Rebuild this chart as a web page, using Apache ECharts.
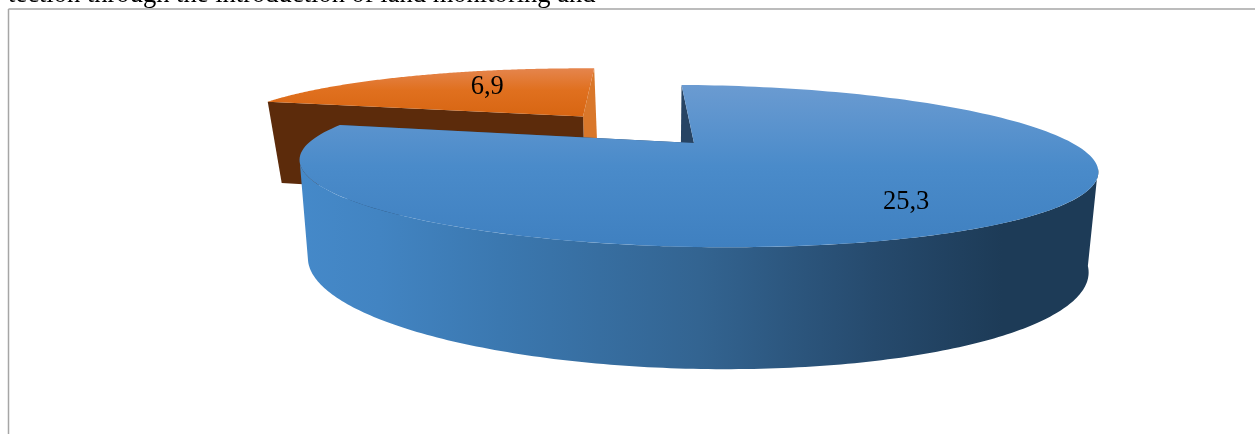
<!DOCTYPE html>
<html>
<head>
<meta charset="utf-8">
<style>html,body{margin:0;padding:0;background:#fff}#c{width:1255px;height:434px}</style>
<script src="https://cdn.jsdelivr.net/npm/echarts@6/dist/echarts.min.js"></script>
</head>
<body>
<div id="c"></div>
<script>
// data
var seriesValues = [25.3, 6.9];
var sliceLabels = ['25,3', '6,9'];
var explode = [0, 0.49];
var captionText = 'tection through the introduction of land monitoring and';

// styles
var topStops = [
  [[0,'#6b9bd1'],[0.5,'#4a8bca'],[1,'#3f80c0']],
  [[0,'#e5854d'],[0.45,'#e0701f'],[1,'#d76512']]
];
var wallStops = [
  [[0,'#4589c9'],[0.1,'#4284c2'],[0.25,'#3b78b0'],[0.5,'#336491'],[0.72,'#264a6d'],[0.88,'#1d3b57'],[1,'#1d3b57']],
  [[0,'#5c2b0b'],[1,'#5c2b0b']]
];
var startWallColor = ['#274464', '#5c2b0b'];
var endWallColor = ['#274464', '#d9772a'];
var labelRadius = [0.72, 0.5];
var labelShift = [8, -7];
var labelShiftX = [-3, -3];
var sliceDepth = [10, 0];

// projection of the pie: top and bottom discs with perspective
var topDisc = {cx:694, cy:143, a:382.6, b:74.5, k:0.284, t:16};
var botDisc = {cx:693, cy:234, a:372, b:94.5, k:0.3, t:16};
var tilt = 0.0065;
function project(d, X, Y) {
  var w = 1 - d.k * Y;
  var x = d.cx + (d.a * X + d.t * Y) / w;
  var y = d.cy + d.b * Y / w + tilt * (x - d.cx);
  return [x, y];
}
var total = seriesValues.reduce(function (s, v) { return s + v; }, 0);
function startOf(i) {
  var s = 0;
  for (var j = 0; j < i; j++) s += seriesValues[j];
  return s / total * 2 * Math.PI;
}
function world(th, r, off) {
  return [off[0] + r * Math.sin(th), off[1] - r * Math.cos(th)];
}
function arc(d, a0, a1, off) {
  var pts = [], n = 180;
  for (var i = 0; i <= n; i++) {
    var w = world(a0 + (a1 - a0) * i / n, 1, off);
    pts.push(project(d, w[0], w[1]));
  }
  return pts;
}
function grad(horizontal, stops) {
  return {type:'linear', x:0, y:0, x2:horizontal?1:0, y2:horizontal?0:1, global:false,
    colorStops:stops.map(function (s) { return {offset:s[0], color:s[1]}; })};
}
function renderSlice(params, api) {
  var i = params.dataIndex;
  var v = api.value(0);
  var a0 = startOf(i), a1 = a0 + v / total * 2 * Math.PI, mid = (a0 + a1) / 2;
  var off = [explode[i] * Math.sin(mid), -explode[i] * Math.cos(mid)];
  var base = sliceDepth[i];
  var kids = [];
  function poly(points, fill, lift) {
    kids.push({type:'polygon', z2:base + lift, shape:{points:points}, style:{fill:fill, stroke:null}});
  }
  function radialWall(th, fill) {
    var o = world(th, 1, off);
    poly([project(topDisc, o[0], o[1]), project(topDisc, off[0], off[1]),
          project(botDisc, off[0], off[1]), project(botDisc, o[0], o[1])], fill, 0);
  }
  radialWall(a1, endWallColor[i]);
  radialWall(a0, startWallColor[i]);
  var silhouette = Math.acos(-topDisc.k);
  var w0 = Math.max(a0, silhouette), w1 = Math.min(a1, 2 * Math.PI - silhouette);
  if (w1 > w0) {
    poly(arc(topDisc, w0, w1, off).concat(arc(botDisc, w0, w1, off).reverse()),
      grad(true, wallStops[i]), 1);
  }
  poly([project(topDisc, off[0], off[1])].concat(arc(topDisc, a0, a1, off)),
    grad(false, topStops[i]), 2);
  var lw = world(mid, labelRadius[i], off);
  var lp = project(topDisc, lw[0], lw[1]);
  kids.push({type:'text', z2:30, style:{x:lp[0] + labelShiftX[i], y:lp[1] + labelShift[i], text:sliceLabels[i],
    fill:'#000', font:'26.5px "Liberation Serif"', textAlign:'center', textVerticalAlign:'middle'}});
  return {type:'group', children:kids};
}

var chart = echarts.init(document.getElementById('c'), null, {renderer:'canvas'});
chart.setOption({
  animation:false,
  backgroundColor:'#fff',
  graphic:[
    {type:'line', shape:{x1:8.5,y1:9,x2:1255,y2:9}, style:{stroke:'#a6a6a6',lineWidth:1.5}, silent:true},
    {type:'line', shape:{x1:8.5,y1:9,x2:8.5,y2:434}, style:{stroke:'#a6a6a6',lineWidth:1.5}, silent:true},
    {type:'text', x:8, y:-18, silent:true, style:{text:captionText, fill:'#000',
      font:'26.55px "Liberation Serif"'}}
  ],
  series:[{
    type:'custom', coordinateSystem:'none', silent:true,
    data:seriesValues.map(function (v) { return [v]; }),
    renderItem:renderSlice
  }]
});
</script>
</body>
</html>
